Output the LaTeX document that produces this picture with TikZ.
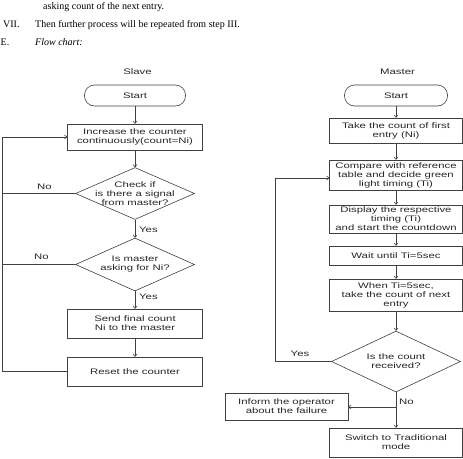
\documentclass[tikz,border=0pt]{standalone}
\usepackage{fontspec}
\setmainfont{Liberation Serif}
\newfontfamily\chartfont[FakeStretch=1.42]{Liberation Sans}
\usetikzlibrary{shapes.geometric,arrows.meta}
\begin{document}
\begin{tikzpicture}[x=1pt,y=-1pt,
  every node/.style={font=\chartfont\fontsize{8}{9}\selectfont, text=black!85, align=center},
  box/.style={draw=black!75, line width=0.6pt, rectangle, inner sep=0.5pt},
  term/.style={box, rounded corners=10pt},
  dia/.style={draw=black!75, line width=0.6pt, diamond, inner sep=0pt},
  ln/.style={draw=black!75, line width=0.6pt},
  arr/.style={ln, -{To[length=3pt,width=4.5pt]}},
  hdr/.style={font=\fontsize{10}{12}\selectfont, anchor=base west, inner sep=0pt, text=black, align=left},
  lbl/.style={inner sep=0pt}
]
\useasboundingbox (0,0) rectangle (463,458);

% header text
\node[hdr] (h1) at (43,9.5) {asking count of the next entry.};
\node[hdr] (h2) at (3,27) {VII.};
\node[hdr] (h3) at (35,27) {Then further process will be repeated from step III.};
\node[hdr] (h4) at (0.5,45) {E.};
\node[hdr, font=\itshape\fontsize{10}{12}\selectfont] (h5) at (35,45) {Flow chart:};

% titles
\node[lbl] (slave) at (137.5,72) {Slave};
\node[lbl] (master) at (397.5,72) {Master};

% ---------- Slave ----------
\node[term, minimum width=101pt, minimum height=21pt] (sStart) at (135,95.5) {Start};
\node[box, minimum width=135pt, minimum height=26pt] (sB1) at (135,137) {Increase the counter\\continuously(count=Ni)};
\node[dia, minimum width=119pt, minimum height=52pt] (sD1) at (135,193.5) {};
\node[lbl] (sD1t) at (sD1) {Check if\\is there a signal\\from master?};
\node[dia, minimum width=119pt, minimum height=53pt] (sD2) at (135,264.5) {};
\node[lbl] (sD2t) at (sD2) {Is master\\asking for Ni?};
\node[box, minimum width=135pt, minimum height=29pt] (sB3) at (135,323.5) {Send final count\\Ni to the master};
\node[box, minimum width=135pt, minimum height=29pt] (sB4) at (135,371.5) {Reset the counter};

\coordinate (sLt) at (2,137);
\coordinate (sLb) at (2,371.5);

\draw[arr] (sStart.south) -- (sB1.north);
\draw[arr] (sB1.south) -- (sD1.north);
\draw[arr] (sD1.south) -- (sD2.north);
\draw[arr] (sD2.south) -- (sB3.north);
\draw[arr] (sB3.south) -- (sB4.north);
\draw[ln] (sD1.west) -- (sD1.west -| sLt);
\draw[ln] (sD2.west) -- (sD2.west -| sLt);
\draw[arr] (sB4.west) -- (sLb) -- (sLt) -- (sB1.west);

\node[lbl] (sNo1) at (44.5,187) {No};
\node[lbl] (sNo2) at (41.5,257) {No};
\node[lbl, anchor=west] (sYes1) at (139,230) {Yes};
\node[lbl, anchor=west] (sYes2) at (139,297) {Yes};

% ---------- Master ----------
\node[term, minimum width=103pt, minimum height=21pt] (mStart) at (396,95.5) {Start};
\node[box, minimum width=133pt, minimum height=25pt] (mB1) at (396,130.5) {Take the count of first\\entry (Ni)};
\node[box, minimum width=133pt, minimum height=30pt] (mB2) at (396,175) {Compare with reference\\table and decide green\\light timing (Ti)};
\node[box, minimum width=133pt, minimum height=28pt] (mB3) at (396,219) {Display the respective\\timing (Ti)\\and start the countdown};
\node[box, minimum width=133pt, minimum height=19pt] (mB4) at (396,255.5) {Wait until Ti=5sec};
\node[box, minimum width=133pt, minimum height=32pt] (mB5) at (396,295) {When Ti=5sec,\\take the count of next\\entry};
\node[dia, minimum width=129pt, minimum height=61pt] (mD) at (396,361.5) {};
\node[lbl] (mDt) at (mD) {Is the count\\received?};
\node[box, minimum width=123pt, minimum height=27pt] (mInf) at (286.5,406.5) {Inform the operator\\about the failure};
\node[box, minimum width=133pt, minimum height=29pt] (mB6) at (396,442.5) {Switch to Traditional\\mode};

\coordinate (mFb) at (275,178);
\coordinate (mBr) at (396,407);

\draw[arr] (mStart.south) -- (mB1.north);
\draw[arr] (mB1.south) -- (mB2.north);
\draw[arr] (mB2.south) -- (mB3.north);
\draw[arr] (mB3.south) -- (mB4.north);
\draw[arr] (mB4.south) -- (mB5.north);
\draw[arr] (mB5.south) -- (mD.north);
\draw[arr] (mD.south) -- (mB6.north);
\draw[arr] (mBr) -- (mBr -| mInf.east);
\draw[arr] (mD.west) -- (mD.west -| mFb) -- (mFb) -- (mFb -| mB2.west);

\node[lbl] (mYes) at (300,354) {Yes};
\node[lbl] (mNo) at (406.5,402) {No};
\end{tikzpicture}
\end{document}
